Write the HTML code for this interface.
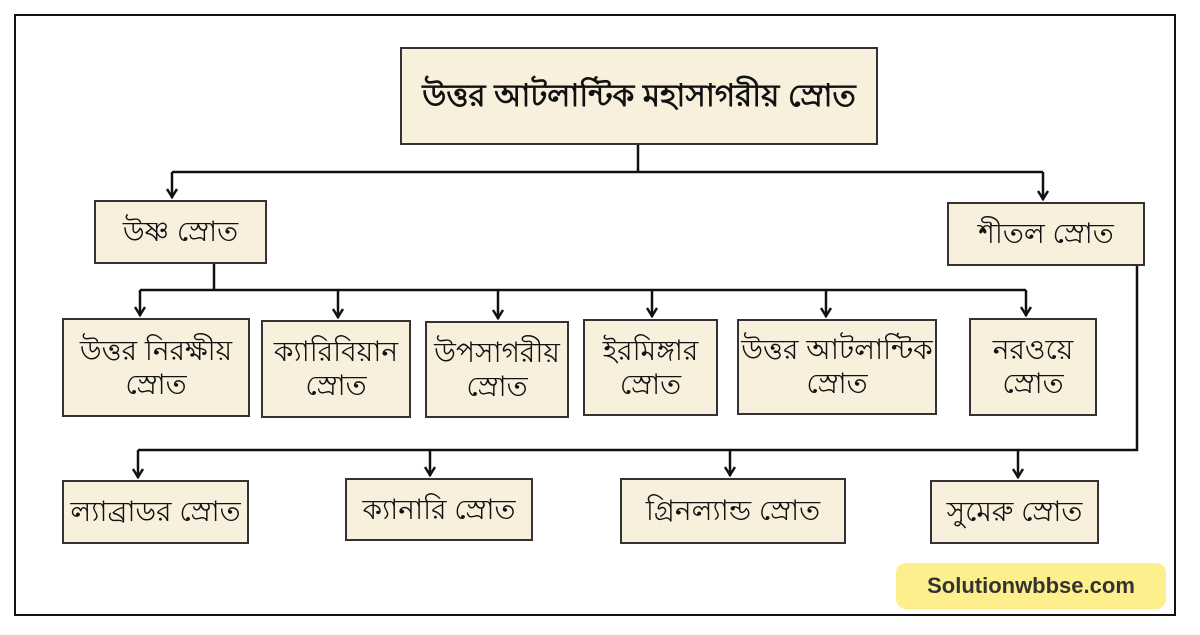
<!DOCTYPE html>
<html><head><meta charset="utf-8"><style>
body{margin:0;width:1200px;height:635px;background:#fff;position:relative;overflow:hidden;font-family:"Liberation Sans","Noto Sans CJK SC",sans-serif}
.frame{position:absolute;left:14px;top:14px;width:1162px;height:602px;border:2px solid #111;box-sizing:border-box}
.b{position:absolute;background:#f8f0dc;border:2px solid #333;box-sizing:border-box;display:flex;align-items:center;justify-content:center;text-align:center;font-size:28px;font-weight:normal;line-height:1.2;color:#111;white-space:nowrap}
.wm{position:absolute;left:896px;top:563px;width:270px;height:46px;background:#fcef8c;border-radius:10px;display:flex;align-items:center;justify-content:center;font-weight:bold;font-size:22px;color:#333}
svg{position:absolute;left:0;top:0}
</style></head><body>
<div class="frame"></div>
<svg width="1200" height="635">
<g stroke="#111" stroke-width="2.5" fill="none">
<path d="M638,145 V172 M172,172 H1043 M172,172 V198 M1043,172 V200"/>
<path d="M214,264 V290 M140,290 H1026 M140,290 V316 M338,290 V318 M498,290 V319 M652,290 V317 M826,290 V317 M1026,290 V316"/>
<path d="M1137,266 V450 H138 M138,450 V478 M430,450 V476 M730,450 V476 M1018,450 V478"/>
</g>
<g stroke="#111" stroke-width="2.5" fill="none">
<path d="M167,189 L172,197 L177,189"/><path d="M1038,191 L1043,199 L1048,191"/>
<path d="M135,307 L140,315 L145,307"/><path d="M333,309 L338,317 L343,309"/>
<path d="M493,310 L498,318 L503,310"/><path d="M647,308 L652,316 L657,308"/>
<path d="M821,308 L826,316 L831,308"/><path d="M1021,307 L1026,315 L1031,307"/>
<path d="M133,469 L138,477 L143,469"/><path d="M425,467 L430,475 L435,467"/>
<path d="M725,467 L730,475 L735,467"/><path d="M1013,469 L1018,477 L1023,469"/>
</g></svg>
<div class="b" style="left:400px;top:47px;width:478px;height:98px;font-weight:bold;font-size:31px">উত্তর আটলান্টিক মহাসাগরীয় স্রোত</div>
<div class="b" style="left:94px;top:200px;width:173px;height:64px">উষ্ণ স্রোত</div>
<div class="b" style="left:947px;top:202px;width:198px;height:64px">শীতল স্রোত</div>
<div class="b" style="left:62px;top:318px;width:188px;height:99px">উত্তর নিরক্ষীয়<br>স্রোত</div>
<div class="b" style="left:261px;top:320px;width:150px;height:98px">ক্যারিবিয়ান<br>স্রোত</div>
<div class="b" style="left:425px;top:321px;width:144px;height:97px">উপসাগরীয়<br>স্রোত</div>
<div class="b" style="left:583px;top:319px;width:135px;height:97px">ইরমিঙ্গার<br>স্রোত</div>
<div class="b" style="left:737px;top:319px;width:200px;height:96px">উত্তর আটলান্টিক<br>স্রোত</div>
<div class="b" style="left:969px;top:318px;width:128px;height:98px">নরওয়ে<br>স্রোত</div>
<div class="b" style="left:62px;top:480px;width:187px;height:64px">ল্যাব্রাডর স্রোত</div>
<div class="b" style="left:345px;top:478px;width:188px;height:63px">ক্যানারি স্রোত</div>
<div class="b" style="left:620px;top:478px;width:226px;height:66px">গ্রিনল্যান্ড স্রোত</div>
<div class="b" style="left:930px;top:480px;width:169px;height:64px">সুমেরু স্রোত</div>
<div class="wm">Solutionwbbse.com</div>
</body></html>
